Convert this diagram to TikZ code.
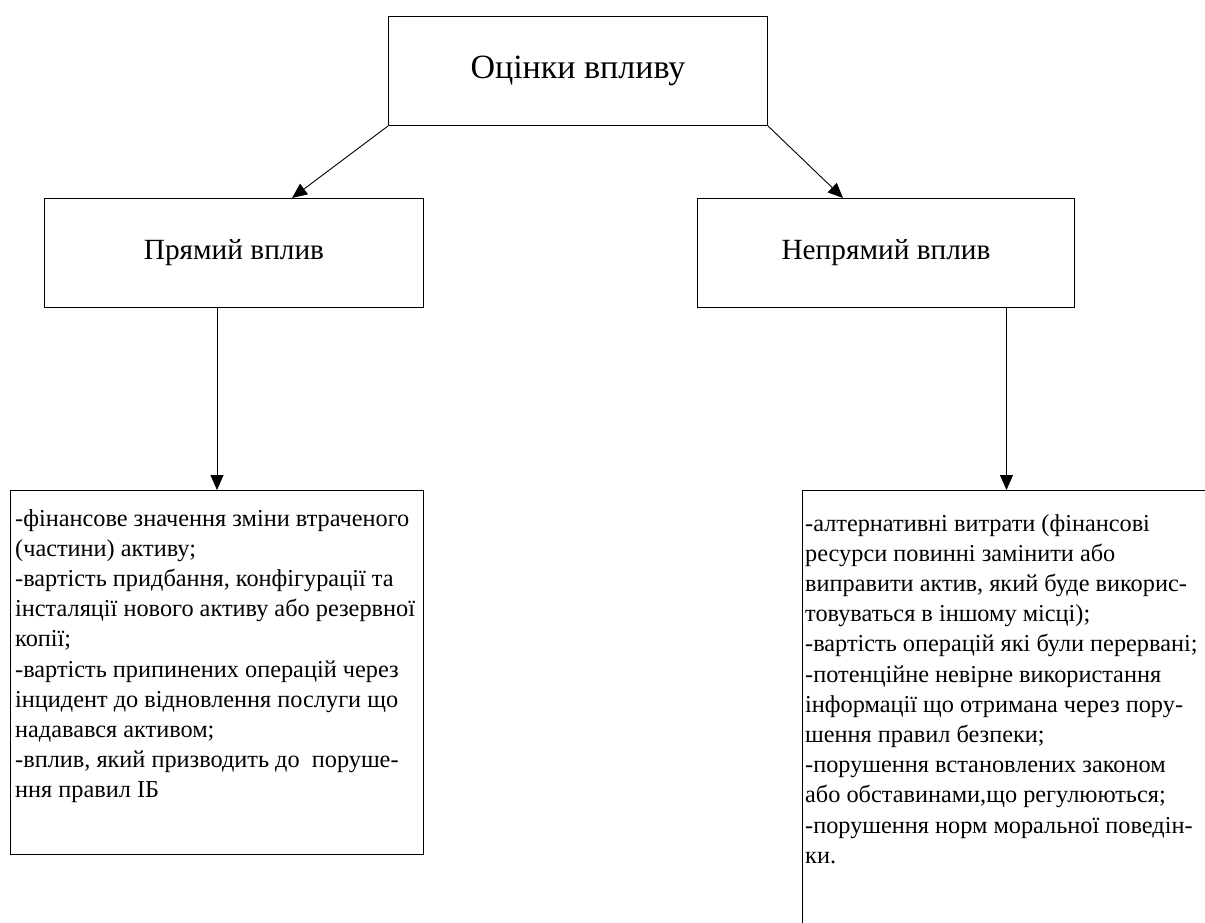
\documentclass[tikz,border=0pt]{standalone}
\usepackage{fontspec}
\setmainfont{Liberation Serif}
\usetikzlibrary{arrows.meta,calc}
\begin{document}
\begin{tikzpicture}[x=1pt,y=-1pt,
  box/.style={draw=black, line width=1pt, rectangle, inner sep=0pt, anchor=north west},
  conn/.style={draw=black, line width=0.9pt, -{Triangle[length=15pt,width=13pt]}},
  body/.style={anchor=north west, inner sep=0pt, align=left, font=\fontsize{24.3}{30.2}\selectfont}]
\path[use as bounding box] (0,0) rectangle (1205,923);
\clip (0,0) rectangle (1205,923);
\node[box, minimum width=379pt, minimum height=109pt, font=\fontsize{34}{40}\selectfont] (top) at (388,16) {Оцінки впливу};
\node[box, minimum width=379pt, minimum height=109pt, font=\fontsize{29.3}{36}\selectfont] (pl) at (44,198) {Прямий вплив};
\node[box, minimum width=377pt, minimum height=109pt, font=\fontsize{29.3}{36}\selectfont] (npl) at (697,198) {Непрямий вплив};
\node[box, minimum width=413pt, minimum height=364pt] (lb) at (10,490) {};
\node[box, minimum width=408pt, minimum height=480pt] (rb) at (802,490) {};
\node[body] (lt) at (15,509) {-фінансове значення зміни втраченого\\
(частини) активу;\\
-вартість придбання, конфігурації та\\
інсталяції нового активу або резервної\\
копії;\\
-вартість припинених операцій через\\
інцидент до відновлення послуги що\\
надавався активом;\\
-вплив, який призводить до\ \ поруше-\\
ння правил ІБ};
\node[body] (rt) at (805,514) {-алтернативні витрати (фінансові\\
ресурси повинні замінити або\\
виправити актив, який буде викорис-\\
товуваться в іншому місці);\\
-вартість операцій які були перервані;\\
-потенційне невірне використання\\
інформації що отримана через пору-\\
шення правил безпеки;\\
-порушення встановлених законом\\
або обставинами,що регулюються;\\
-порушення норм моральної поведін-\\
ки.};
\draw[conn] (top.south west) -- ([xshift=248pt]pl.north west);
\draw[conn] (top.south east) -- ([xshift=146pt]npl.north west);
\draw[conn] (lb.north |- pl.south) -- (lb.north);
\draw[conn] (rb.north |- npl.south) -- (rb.north);
\end{tikzpicture}
\end{document}
